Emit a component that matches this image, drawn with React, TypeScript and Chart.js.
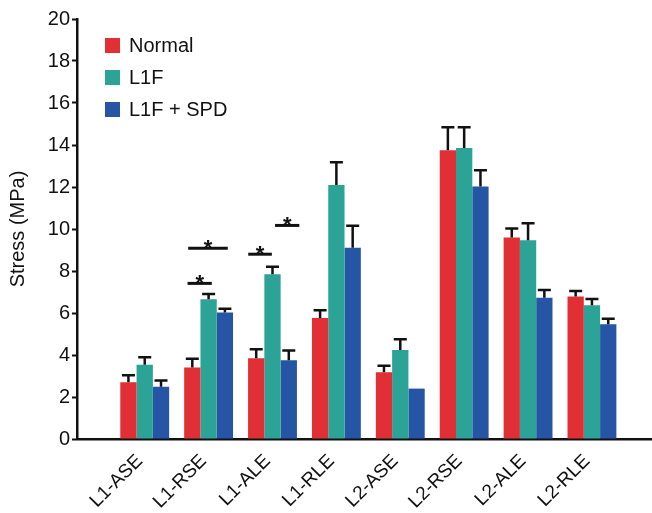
import React, { useEffect, useRef } from "react";
import { Chart, registerables } from "chart.js";

Chart.register(...registerables);

const categories = ["L1-ASE", "L1-RSE", "L1-ALE", "L1-RLE", "L2-ASE", "L2-RSE", "L2-ALE", "L2-RLE"];
const seriesNames = ["Normal", "L1F", "L1F + SPD"];
const seriesColors = ["#E13035", "#2BA396", "#2655A6"];

const normalMeans = [2.7, 3.4, 3.84, 5.76, 3.18, 13.75, 9.6, 6.78];
const l1fMeans = [3.54, 6.65, 7.84, 12.1, 4.24, 13.86, 9.46, 6.37];
const spdMeans = [2.49, 6.02, 3.75, 9.11, 2.4, 12.02, 6.73, 5.46];

const normalErr = [0.33, 0.42, 0.43, 0.37, 0.31, 1.09, 0.42, 0.27];
const l1fErr = [0.35, 0.25, 0.36, 1.08, 0.51, 0.98, 0.81, 0.3];
const spdErr = [0.29, 0.18, 0.47, 1.05, 0, 0.78, 0.37, 0.27];

const yMin = 0;
const yMax = 20;
const yStep = 2;

// significance marks: category index, span relative to category centre, y value
const sigCategory = [1, 1, 2, 2];
const sigFrom = [-0.33, -0.32, -0.38, 0.04];
const sigTo = [0.05, 0.3, -0.01, 0.42];
const sigY = [7.41, 9.08, 8.8, 10.17];

const means = [normalMeans, l1fMeans, spdMeans];
const errs = [normalErr, l1fErr, spdErr];

const FONT = "'Liberation Sans', Arial, Helvetica, sans-serif";

const errorBarPlugin = {
  id: "errorBars",
  afterDatasetsDraw(chart: any) {
    const ctx = chart.ctx;
    const yScale = chart.scales.y;
    ctx.save();
    ctx.strokeStyle = "#111";
    ctx.lineWidth = 2.5;
    chart.data.datasets.forEach((ds: any, di: number) => {
      const meta = chart.getDatasetMeta(di);
      meta.data.forEach((bar: any, i: number) => {
        const e = errs[di][i];
        if (!e) return;
        const top = yScale.getPixelForValue(means[di][i] + e);
        ctx.beginPath();
        ctx.moveTo(bar.x, bar.y);
        ctx.lineTo(bar.x, top);
        ctx.moveTo(bar.x - 6.5, top);
        ctx.lineTo(bar.x + 6.5, top);
        ctx.stroke();
      });
    });
    ctx.restore();
  },
};

const sigPlugin = {
  id: "sigMarks",
  afterDatasetsDraw(chart: any) {
    const ctx = chart.ctx;
    const xs = chart.scales.x;
    const ys = chart.scales.y;
    ctx.save();
    ctx.strokeStyle = "#111";
    ctx.fillStyle = "#111";
    ctx.lineWidth = 3;
    ctx.font = `bold 22px ${FONT}`;
    ctx.textAlign = "center";
    ctx.textBaseline = "alphabetic";
    sigCategory.forEach((c, k) => {
      const x1 = xs.getPixelForValue(c + 1 + sigFrom[k]);
      const x2 = xs.getPixelForValue(c + 1 + sigTo[k]);
      const y = ys.getPixelForValue(sigY[k]);
      ctx.beginPath();
      ctx.moveTo(x1, y);
      ctx.lineTo(x2, y);
      ctx.stroke();
      ctx.fillText("*", (x1 + x2) / 2, y + 7);
    });
    ctx.restore();
  },
};

const legendPlugin = {
  id: "insideLegend",
  afterDraw(chart: any) {
    const ctx = chart.ctx;
    ctx.save();
    ctx.font = `20px ${FONT}`;
    ctx.textBaseline = "middle";
    ctx.textAlign = "left";
    chart.data.datasets.forEach((ds: any, i: number) => {
      const cy = 45.5 + i * 32;
      ctx.fillStyle = ds.backgroundColor;
      ctx.fillRect(105, cy - 7.5, 15, 15);
      ctx.fillStyle = "#111";
      ctx.fillText(ds.label, 129, cy + 1);
    });
    ctx.restore();
  },
};

export default function App() {
  const ref = useRef<HTMLCanvasElement>(null);
  useEffect(() => {
    if (!ref.current) return;
    const chart = new Chart(ref.current, {
      type: "bar",
      data: {
        datasets: seriesNames.map((name, si) => ({
          label: name,
          data: categories.map((_, i) => ({ x: i + 1, y: means[si][i] })),
          backgroundColor: seriesColors[si],
          borderWidth: 0,
          categoryPercentage: 0.765,
          barPercentage: 1,
        })),
      },
      options: {
        responsive: false,
        animation: false,
        layout: { padding: { top: 19, right: 0, left: 0, bottom: 0 } },
        plugins: { legend: { display: false }, tooltip: { enabled: false } },
        scales: {
          x: {
            type: "linear",
            offset: false,
            min: -0.06,
            max: 8.94,
            afterBuildTicks: (scale: any) => {
              scale.ticks = categories.map((_, i) => ({ value: i + 1 }));
            },
            afterFit: (scale: any) => {
              scale.height = 74;
            },
            grid: { display: false, drawTicks: false, offset: false },
            border: { display: true, color: "#111", width: 2.5 },
            ticks: {
              minRotation: 45,
              maxRotation: 45,
              autoSkip: false,
              padding: 11,
              labelOffset: -5,
              color: "#111",
              font: { family: FONT, size: 19 },
              callback: (v: any) => categories[Math.round(v) - 1] ?? "",
            },
          },
          y: {
            min: yMin,
            max: yMax,
            afterFit: (scale: any) => {
              scale.width = 77;
            },
            grid: {
              display: true,
              drawOnChartArea: false,
              drawTicks: true,
              tickLength: 5,
              tickColor: "#111",
              tickWidth: 2,
            },
            border: { display: true, color: "#111", width: 2.5 },
            ticks: {
              stepSize: yStep,
              padding: 2,
              color: "#111",
              font: { family: FONT, size: 20 },
            },
            title: {
              display: true,
              text: "Stress (MPa)",
              color: "#111",
              font: { family: FONT, size: 20 },
              padding: { top: 6, bottom: 0 },
            },
          },
        },
      },
      plugins: [errorBarPlugin, sigPlugin, legendPlugin],
    });
    return () => chart.destroy();
  }, []);
  return (
    <div style={{ position: "fixed", left: 0, top: 0, width: 652, height: 513, background: "#fff" }}>
      <canvas ref={ref} width={652} height={513} style={{ display: "block" }} />
    </div>
  );
}
